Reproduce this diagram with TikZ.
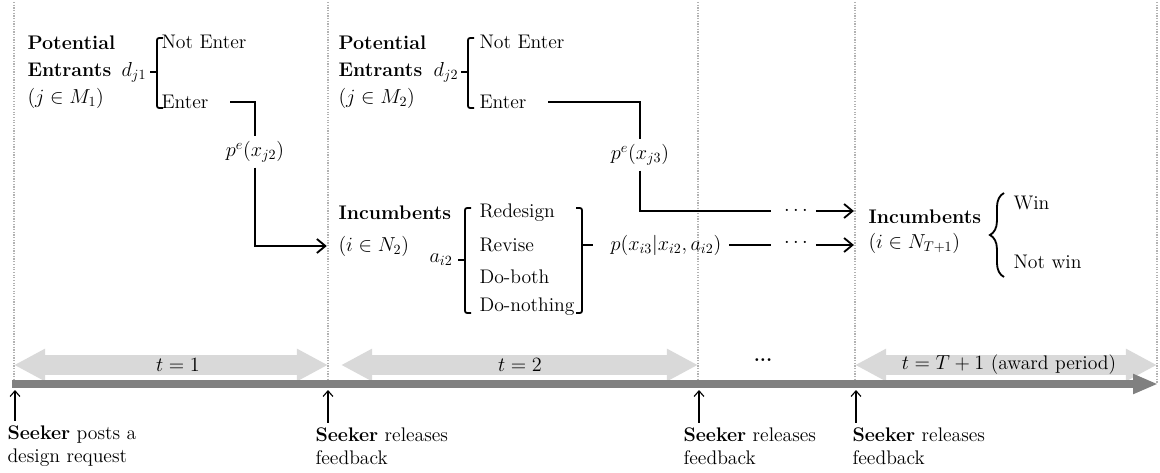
\documentclass[tikz,border=0pt]{standalone}
\usepackage{tikz}
\usetikzlibrary{arrows.meta,decorations.pathreplacing,positioning,calc}
\tikzset{every picture/.style={line width=0.75pt}}
\tikzset{
  sep/.style={black!30, densely dotted, line width=0.9pt},
  flow/.style={line width=1.3pt},
  into/.style={flow, -{Straight Barb[length=6pt,width=10pt]}},
  up/.style={line width=0.8pt, -{Straight Barb[length=4pt,width=7pt]}},
  lbl/.style={inner sep=0pt, anchor=west},
  seeker/.style={lbl, align=left, font=\fontsize{14}{16.5}\selectfont},
  period/.style={black!15, line width=0.5cm,
    {Triangle[length=0.78cm,width=0.76cm]}-{Triangle[length=0.78cm,width=0.76cm]}},
  timeline/.style={gray, line width=0.18cm, -{Triangle[length=0.62cm,width=0.46cm]}},
}

\begin{document}
\begin{tikzpicture}[x=0.025cm, y=-0.025cm, font=\fontsize{14}{19}\selectfont]
    \useasboundingbox (0,0) rectangle (1160,473);

    % Period separators
    \foreach \x in {14,328,698,855,1157}
        \draw[sep] (\x,2) -- (\x,384);

    % Periods and time line
    \draw[period] (14,365) -- (328,365);
    \draw[period] (341,365) -- (698,365);
    \draw[period] (855,365) -- (1157,365);
    \draw[timeline] (12,384) -- (1158,384);
    \node (t1) at (178,365) {$t=1$};
    \node (t2) at (520,365) {$t=2$};
    \node (tdots) at (763,360) {\textbf{...}};
    \node (tlast) at (1009,365) {$t=T+1$ (award period)};

    % Seeker actions
    \node[seeker] (sk0) at (7,446) {\textbf{Seeker} posts a\\design request};
    \node[seeker] (sk1) at (315,446) {\textbf{Seeker} releases\\feedback};
    \node[seeker] (sk2) at (683,446) {\textbf{Seeker} releases\\feedback};
    \node[seeker] (sk3) at (852,446) {\textbf{Seeker} releases\\feedback};
    \coordinate (r0) at (15,390);
    \coordinate (r1) at (328,390);
    \coordinate (r2) at (699,390);
    \coordinate (r3) at (856,390);
    \draw[up] ([yshift=3pt]r0 |- sk0.north) -- (r0);
    \draw[up] ([yshift=3pt]r1 |- sk1.north) -- (r1);
    \draw[up] ([yshift=3pt]r2 |- sk2.north) -- (r2);
    \draw[up] ([yshift=3pt]r3 |- sk3.north) -- (r3);

    % Potential entrants, t = 1
    \node[lbl, align=left] (pot1) at (27,72) {\textbf{Potential}\\\textbf{Entrants}\\$(j\in M_1)$};
    \node (dj1) at (134,72) {$d_{j1}$};
    \node[lbl] (ne1) at (161,42) {Not Enter};
    \node[lbl] (en1) at (161,102) {Enter};
    \draw[flow, rounded corners=1.5pt] (163,38) -- (157,38) -- (157,108) -- (163,108);
    \draw[flow] (150,72) -- (157,72);

    % Potential entrants, t = 2
    \node[lbl, align=left] (pot2) at (338,72) {\textbf{Potential}\\\textbf{Entrants}\\$(j\in M_2)$};
    \node (dj2) at (446,72) {$d_{j2}$};
    \node[lbl] (ne2) at (479,42) {Not Enter};
    \node[lbl] (en2) at (479,102) {Enter};
    \draw[flow, rounded corners=1.5pt] (474,38) -- (468,38) -- (468,108) -- (474,108);
    \draw[flow] (461,72) -- (468,72);

    % Incumbents, t = 2
    \node[lbl] (inc2) at (338,213) {\textbf{Incumbents}};
    \node[lbl] (inc2set) at (338,246) {$(i\in N_2)$};
    \node (ai2) at (441,260) {$a_{i2}$};
    \node[lbl] (o1) at (479,213) {Redesign};
    \node[lbl] (o2) at (479,245) {Revise};
    \node[lbl] (o3) at (479,277) {Do-both};
    \node[lbl] (o4) at (479,307) {Do-nothing};
    \draw[flow, rounded corners=1.5pt] (471,208) -- (465,208) -- (465,313) -- (471,313);
    \draw[flow] (458,260) -- (465,260);
    \draw[flow, rounded corners=1.5pt] (576,208) -- (582,208) -- (582,313) -- (576,313);
    \draw[flow] (582,245) -- (593,245);
    \node (pxi) at (666,245) {$p(x_{i3}|x_{i2},a_{i2})$};

    % Entry probabilities
    \node (pe1) at (255,152) {$p^e(x_{j2})$};
    \node (pe2) at (640,155) {$p^e(x_{j3})$};
    \draw[flow] ([xshift=15pt]en1.east) -| (pe1.north);
    \draw[into] (pe1.south) |- ([xshift=-8pt]inc2set.west);
    \draw[flow] ([xshift=15pt]en2.east) -| (pe2.north);

    % Incumbents, t = T+1
    \node[lbl] (incT) at (868,217) {\textbf{Incumbents}};
    \node[lbl] (incTset) at (868,243) {$(i\in N_{T+1})$};
    \node (dotsA) at (796,211) {$\cdots$};
    \node (dotsB) at (796,243) {$\cdots$};
    \draw[flow] (pe2.south) |- ([xshift=-6pt]dotsA.west);
    \draw[into] ([xshift=2pt]dotsA.east) -- ([xshift=-10pt]dotsA.east -| incT.west);
    \draw[flow] ([xshift=2pt]pxi.east) -- ([xshift=-6pt]pxi.east -| dotsB.west);
    \draw[into] ([xshift=2pt]pxi.east -| dotsB.east) -- ([xshift=-10pt]pxi.east -| incTset.west);
    \draw[flow, decorate, decoration={brace, amplitude=10pt}] (1004,277) -- (1004,193);
    \node[lbl] (win) at (1013,203) {Win};
    \node[lbl] (nowin) at (1013,262) {Not win};
\end{tikzpicture}
\end{document}
